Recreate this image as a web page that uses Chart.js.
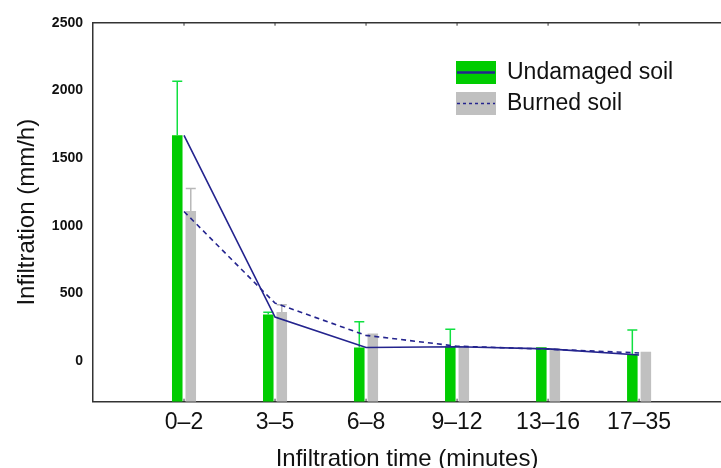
<!DOCTYPE html>
<html>
<head>
<meta charset="utf-8">
<script src="https://cdn.jsdelivr.net/npm/chart.js@4"></script>
<style>
  body { margin: 0; background: #fff; }
</style>
</head>
<body>
<canvas id="grafico" width="721" height="468"></canvas>
<script>
// datos
const categorias = ['0–2', '3–5', '6–8', '9–12', '13–16', '17–35'];
const sinDano = [1668, 345, 101, 106, 102, 52];      // barras verdes
const quemado = [1108, 362, 203, 112, 94, 69];       // barras grises
const errSinDano = [400, 15, 190, 130, 0, 177];
const errQuemado = [168, 55, 0, 0, 0, 0];
const lineaSinDano = [1668, 325, 100, 106, 90, 45];  // linea continua
const lineaQuemado = [1105, 428, 190, 110, 88, 60];  // linea discontinua
const yTicks = [0, 500, 1000, 1500, 2000, 2500];
const yMin = -300, yMax = 2500;

const FUENTE = "'Liberation Sans', Arial, sans-serif";
const VERDE = '#00cc00';
const GRIS = '#c0c0c0';
const AZUL = '#24248e';

const puntos = arr => arr.map((v, i) => ({ x: i, y: v }));

// barras de error (solo hacia arriba)
const errorBars = {
  id: 'errorBars',
  afterDatasetDraw(chart, args) {
    const ds = chart.data.datasets[args.index];
    if (!ds.errores) return;
    const ctx = chart.ctx;
    const y = chart.scales.y;
    ctx.save();
    ctx.strokeStyle = ds.colorError;
    ctx.lineWidth = 1.5;
    args.meta.data.forEach((bar, i) => {
      const e = ds.errores[i];
      if (!e) return;
      const top = y.getPixelForValue(ds.data[i].y + e);
      ctx.beginPath();
      ctx.moveTo(bar.x, bar.y);
      ctx.lineTo(bar.x, top);
      ctx.moveTo(bar.x - 5, top);
      ctx.lineTo(bar.x + 5, top);
      ctx.stroke();
    });
    ctx.restore();
  }
};

// borde superior y marcas
const marco = {
  id: 'marco',
  afterDraw(chart) {
    const { ctx, chartArea: a } = chart;
    const x = chart.scales.x;
    ctx.save();
    ctx.strokeStyle = '#333';
    ctx.lineWidth = 1.5;
    ctx.beginPath();
    ctx.moveTo(a.left, a.top);
    ctx.lineTo(a.right, a.top);
    ctx.stroke();
    ctx.lineWidth = 1;
    categorias.forEach((c, i) => {
      const px = x.getPixelForValue(i);
      ctx.beginPath();
      ctx.moveTo(px, a.top);
      ctx.lineTo(px, a.top + 3);
      ctx.moveTo(px, a.bottom);
      ctx.lineTo(px, a.bottom - 3);
      ctx.stroke();
    });
    ctx.restore();
  }
};

// leyenda: caja + linea
const leyenda = {
  id: 'leyenda',
  afterDraw(chart) {
    const ctx = chart.ctx;
    const items = [
      { txt: 'Undamaged soil', fill: VERDE, dash: [], y: 61 },
      { txt: 'Burned soil', fill: GRIS, dash: [3, 3], y: 92 }
    ];
    ctx.save();
    items.forEach(it => {
      ctx.fillStyle = it.fill;
      ctx.fillRect(456, it.y, 40, 23);
      ctx.strokeStyle = AZUL;
      ctx.lineWidth = it.dash.length ? 1.6 : 2.5;
      ctx.setLineDash(it.dash);
      ctx.beginPath();
      ctx.moveTo(457, it.y + 11.5);
      ctx.lineTo(495, it.y + 11.5);
      ctx.stroke();
      ctx.setLineDash([]);
      ctx.fillStyle = '#111';
      ctx.font = '23px ' + FUENTE;
      ctx.textBaseline = 'middle';
      ctx.fillText(it.txt, 507, it.y + 12);
    });
    ctx.restore();
  }
};

new Chart(document.getElementById('grafico'), {
  data: {
    datasets: [
      {
        type: 'line',
        data: puntos(lineaSinDano),
        borderColor: AZUL,
        borderWidth: 1.6,
        pointRadius: 0,
        order: 0
      },
      {
        type: 'line',
        data: puntos(lineaQuemado),
        borderColor: AZUL,
        borderWidth: 1.6,
        borderDash: [5, 4],
        pointRadius: 0,
        order: 0
      },
      {
        type: 'bar',
        data: puntos(sinDano),
        errores: errSinDano,
        colorError: '#10e040',
        backgroundColor: VERDE,
        base: yMin,
        categoryPercentage: 0.297,
        barPercentage: 0.78,
        order: 1
      },
      {
        type: 'bar',
        data: puntos(quemado),
        errores: errQuemado,
        colorError: '#b8b8b8',
        backgroundColor: GRIS,
        base: yMin,
        categoryPercentage: 0.297,
        barPercentage: 0.78,
        order: 1
      }
    ]
  },
  options: {
    responsive: false,
    animation: false,
    layout: { padding: { top: 22.7, right: 0, bottom: 0, left: 0 } },
    plugins: {
      legend: { display: false },
      tooltip: { enabled: false }
    },
    scales: {
      x: {
        type: 'linear',
        offset: false,
        min: -1,
        max: 5.9,
        afterBuildTicks: s => { s.ticks = categorias.map((c, i) => ({ value: i })); },
        afterFit: s => { s.height = 66.3; },
        grid: { display: false, drawTicks: false, offset: false },
        border: { display: true, color: '#333', width: 1.5 },
        ticks: {
          autoSkip: false,
          padding: 7,
          color: '#111',
          font: { family: FUENTE, size: 23 },
          callback: v => categorias[v]
        },
        title: {
          display: true,
          text: 'Infiltration time (minutes)',
          color: '#111',
          font: { family: FUENTE, size: 24, lineHeight: 0.75 },
          padding: { top: 0, bottom: 0 }
        }
      },
      y: {
        min: yMin,
        max: yMax,
        afterBuildTicks: s => { s.ticks = yTicks.map(v => ({ value: v })); },
        afterFit: s => { s.width = 93; },
        grid: { display: false, drawTicks: false },
        border: { display: true, color: '#333', width: 1.5 },
        ticks: {
          padding: 10,
          color: '#111',
          font: { family: FUENTE, size: 14, weight: 'bold' },
          callback: v => String(v)
        },
        title: {
          display: true,
          text: 'Infiltration (mm/h)',
          color: '#111',
          font: { family: FUENTE, size: 24 },
          padding: { top: 13, bottom: 0 }
        }
      }
    }
  },
  plugins: [errorBars, marco, leyenda]
});
</script>
</body>
</html>
